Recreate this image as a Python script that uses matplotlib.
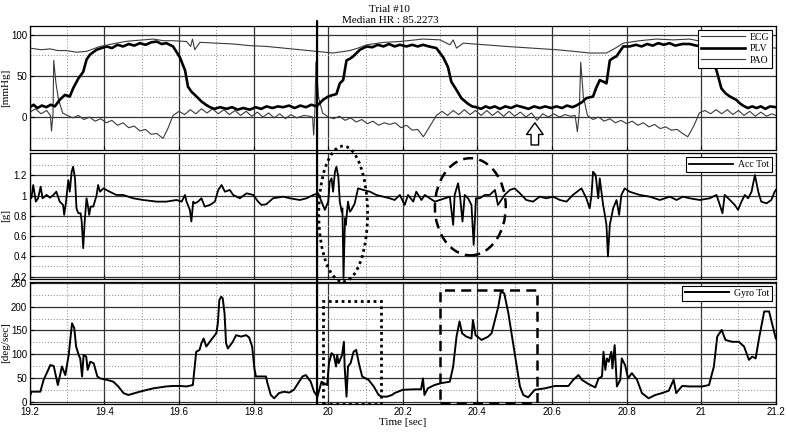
import numpy as np
import matplotlib
matplotlib.use("Agg")
import matplotlib.pyplot as plt
from matplotlib.patches import Ellipse, Rectangle, ConnectionPatch

# ---- data ----
ecg_t = [19.200, 19.215, 19.230, 19.245, 19.255, 19.258, 19.262, 19.264, 19.270, 19.277,
         19.288, 19.300, 19.315, 19.330, 19.345, 19.360, 19.375, 19.390, 19.405, 19.420,
         19.435, 19.450, 19.465, 19.480, 19.495, 19.510, 19.525, 19.540, 19.557, 19.570,
         19.584, 19.600, 19.615, 19.630, 19.645, 19.660, 19.675, 19.690, 19.705, 19.720,
         19.735, 19.750, 19.765, 19.780, 19.795, 19.810, 19.825, 19.840, 19.855, 19.870,
         19.885, 19.900, 19.915, 19.935, 19.950, 19.958, 19.961, 19.964, 19.967, 19.974,
         19.985, 20.000, 20.015, 20.030, 20.045, 20.060, 20.075, 20.090, 20.105, 20.120,
         20.135, 20.150, 20.165, 20.180, 20.195, 20.210, 20.225, 20.240, 20.255, 20.270,
         20.290, 20.305, 20.320, 20.335, 20.350, 20.365, 20.380, 20.395, 20.410, 20.425,
         20.440, 20.455, 20.470, 20.485, 20.500, 20.515, 20.530, 20.545, 20.560, 20.575,
         20.590, 20.605, 20.620, 20.635, 20.650, 20.662, 20.668, 20.673, 20.677, 20.684,
         20.695, 20.710, 20.725, 20.740, 20.755, 20.770, 20.785, 20.800, 20.815, 20.830,
         20.845, 20.860, 20.875, 20.890, 20.905, 20.920, 20.935, 20.950, 20.964, 20.980,
         20.995, 21.010, 21.025, 21.040, 21.055, 21.070, 21.085, 21.100, 21.115, 21.130,
         21.145, 21.160, 21.175, 21.190, 21.200]
ecg_v = [6, 10, 4, 8, 2, -17, 4, 69, 41, 21,
         5, 2, -1, 2, -3, 0, -5, -2, -7, -4,
         -10, -7, -13, -11, -17, -15, -21, -20, -26, -14,
         2, 7, 3, 9, 4, 10, 5, 10, 4, 9,
         3, 8, 2, 7, 1, 6, 0, 5, -1, 4,
         -2, 3, -1, 2, 1, 0, -22, 5, 67, 24,
         5, 0, -2, 1, -4, -1, -6, -3, -8, -5,
         -10, -7, -9, -7, -13, -10, -16, -15, -24, -13,
         2, 7, 2, 8, 3, 9, 3, 8, 2, 8,
         2, 7, 1, 7, 1, 6, 0, 5, -4, 4,
         0, 4, 0, 3, 1, 2, -18, 5, 67, 25,
         2, -3, 0, -5, -2, -7, -4, -8, -5, -10,
         -7, -12, -9, -14, -12, -16, -15, -20, -24, -11,
         5, 8, 4, 9, 4, 9, 3, 8, 2, 7,
         1, 6, 1, 4, 2]

plv_t = [19.200, 19.210, 19.220, 19.232, 19.244, 19.256, 19.267, 19.280, 19.294, 19.307,
         19.316, 19.330, 19.343, 19.352, 19.361, 19.370, 19.379, 19.392, 19.406, 19.420,
         19.435, 19.450, 19.465, 19.480, 19.495, 19.510, 19.525, 19.540, 19.553, 19.566,
         19.584, 19.602, 19.616, 19.624, 19.633, 19.647, 19.660, 19.672, 19.683, 19.695,
         19.710, 19.727, 19.742, 19.757, 19.772, 19.790, 19.805, 19.820, 19.835, 19.850,
         19.865, 19.879, 19.895, 19.910, 19.925, 19.940, 19.955, 19.969, 19.986, 20.000,
         20.013, 20.022, 20.031, 20.040, 20.049, 20.058, 20.067, 20.076, 20.085, 20.094,
         20.103, 20.118, 20.133, 20.148, 20.163, 20.178, 20.192, 20.210, 20.225, 20.240,
         20.254, 20.270, 20.290, 20.308, 20.321, 20.330, 20.344, 20.357, 20.375, 20.386,
         20.397, 20.410, 20.422, 20.433, 20.447, 20.460, 20.475, 20.490, 20.505, 20.522,
         20.537, 20.552, 20.567, 20.582, 20.597, 20.612, 20.627, 20.640, 20.655, 20.665,
         20.680, 20.692, 20.710, 20.718, 20.728, 20.738, 20.746, 20.755, 20.764, 20.773,
         20.782, 20.791, 20.808, 20.825, 20.840, 20.855, 20.870, 20.885, 20.900, 20.915,
         20.930, 20.950, 20.969, 20.987, 21.005, 21.015, 21.023, 21.032, 21.041, 21.054,
         21.065, 21.077, 21.094, 21.103, 21.112, 21.125, 21.137, 21.148, 21.160, 21.172,
         21.185, 21.200]
plv_v = [12, 15, 11, 14, 12, 15, 13, 21, 27, 25,
         35, 47, 55, 70, 76, 79, 82, 84, 86, 84,
         88, 86, 89, 87, 90, 88, 91, 92, 89, 90,
         86, 73, 57, 37, 31, 25, 19, 15, 12, 10,
         12, 10, 12, 9, 11, 9, 12, 10, 13, 11,
         13, 12, 14, 11, 14, 12, 15, 13, 21, 25,
         27, 28, 41, 45, 69, 71, 74, 78, 82, 84,
         86, 85, 88, 86, 89, 86, 88, 86, 88, 86,
         88, 86, 84, 73, 61, 43, 33, 23, 16, 13,
         12, 10, 13, 11, 13, 10, 13, 11, 14, 12,
         10, 13, 11, 13, 11, 13, 11, 14, 12, 14,
         18, 23, 25, 35, 45, 43, 41, 69, 72, 74,
         80, 86, 86, 88, 86, 89, 87, 90, 88, 90,
         87, 89, 89, 87, 86, 82, 76, 65, 57, 35,
         29, 25, 21, 17, 14, 11, 13, 11, 13, 10,
         13, 12]

pao_t = [19.200, 19.230, 19.254, 19.275, 19.298, 19.325, 19.352, 19.370, 19.388, 19.410,
         19.432, 19.455, 19.477, 19.505, 19.531, 19.558, 19.584, 19.620, 19.631, 19.636,
         19.642, 19.656, 19.700, 19.745, 19.790, 19.835, 19.880, 19.924, 19.969, 20.013,
         20.058, 20.080, 20.103, 20.150, 20.192, 20.254, 20.300, 20.326, 20.335, 20.344,
         20.362, 20.420, 20.478, 20.545, 20.612, 20.660, 20.701, 20.746, 20.770, 20.791,
         20.835, 20.880, 20.925, 20.969, 21.023, 21.034, 21.045, 21.059, 21.100, 21.148,
         21.200]
pao_v = [84, 82, 83, 81, 81, 79, 80, 83, 86, 88,
         90, 92, 93, 94, 95, 93, 93, 92, 86, 95,
         82, 91, 90, 89, 87, 86, 84, 82, 80, 78,
         81, 84, 88, 91, 92, 95, 94, 88, 94, 84,
         90, 88, 86, 84, 82, 80, 78, 78, 84, 90,
         93, 95, 94, 95, 90, 92, 86, 90, 88, 86,
         84]

acc_t = [19.200, 19.204, 19.209, 19.216, 19.222, 19.229, 19.234, 19.245, 19.254, 19.263,
         19.271, 19.280, 19.289, 19.292, 19.297, 19.303, 19.307, 19.312, 19.316, 19.321,
         19.325, 19.330, 19.336, 19.339, 19.343, 19.347, 19.352, 19.356, 19.359, 19.363,
         19.370, 19.374, 19.379, 19.383, 19.388, 19.397, 19.414, 19.432, 19.450, 19.477,
         19.504, 19.540, 19.566, 19.593, 19.607, 19.616, 19.620, 19.629, 19.633, 19.638,
         19.642, 19.651, 19.660, 19.669, 19.683, 19.696, 19.705, 19.714, 19.723, 19.736,
         19.745, 19.763, 19.781, 19.799, 19.812, 19.821, 19.834, 19.852, 19.879, 19.897,
         19.924, 19.942, 19.960, 19.973, 19.982, 19.991, 20.000, 20.004, 20.009, 20.013,
         20.018, 20.022, 20.027, 20.031, 20.036, 20.038, 20.041, 20.045, 20.047, 20.053,
         20.058, 20.062, 20.071, 20.080, 20.094, 20.112, 20.129, 20.147, 20.165, 20.178,
         20.192, 20.205, 20.214, 20.228, 20.236, 20.250, 20.259, 20.272, 20.286, 20.299,
         20.312, 20.326, 20.335, 20.339, 20.348, 20.353, 20.360, 20.366, 20.375, 20.384,
         20.390, 20.396, 20.406, 20.420, 20.433, 20.447, 20.455, 20.464, 20.473, 20.487,
         20.500, 20.514, 20.531, 20.549, 20.567, 20.585, 20.603, 20.621, 20.639, 20.656,
         20.679, 20.692, 20.701, 20.706, 20.710, 20.717, 20.724, 20.728, 20.737, 20.741,
         20.746, 20.750, 20.755, 20.764, 20.773, 20.780, 20.786, 20.795, 20.808, 20.835,
         20.862, 20.889, 20.916, 20.934, 20.951, 20.969, 20.996, 21.023, 21.041, 21.050,
         21.057, 21.063, 21.077, 21.090, 21.099, 21.108, 21.117, 21.126, 21.135, 21.144,
         21.153, 21.161, 21.175, 21.188, 21.197, 21.200]
acc_v = [1.007, 0.974, 1.105, 0.941, 0.974, 1.089, 0.974, 1.007, 0.980, 1.007,
         1.039, 0.941, 0.908, 0.810, 0.941, 1.154, 1.039, 1.236, 1.286, 1.171,
         0.875, 0.826, 0.826, 0.744, 0.481, 0.744, 0.974, 0.892, 0.810, 0.892,
         0.892, 0.941, 1.007, 1.105, 1.039, 1.072, 1.039, 1.007, 1.007, 0.974,
         0.957, 0.941, 0.941, 0.957, 0.941, 1.007, 0.941, 0.859, 0.744, 0.941,
         0.924, 0.941, 0.974, 0.892, 0.908, 0.941, 1.056, 1.105, 1.039, 1.056,
         1.007, 0.974, 1.023, 1.007, 0.941, 0.908, 0.915, 0.974, 0.990, 0.974,
         0.957, 0.974, 1.007, 1.023, 0.941, 0.859, 0.941, 1.138, 1.171, 1.039,
         1.236, 1.286, 1.187, 0.941, 0.842, 0.875, 0.186, 0.777, 0.711, 0.941,
         0.842, 0.859, 0.924, 1.072, 1.056, 1.039, 1.007, 0.990, 0.974, 0.957,
         1.007, 0.908, 1.007, 0.941, 1.039, 0.957, 1.007, 0.974, 0.941, 0.957,
         0.974, 0.990, 0.711, 1.007, 1.122, 1.007, 0.744, 1.007, 0.974, 0.908,
         0.514, 0.974, 0.974, 1.007, 1.007, 1.056, 0.908, 0.957, 1.007, 1.056,
         1.072, 1.023, 0.957, 0.941, 0.990, 0.974, 0.990, 0.957, 0.941, 1.007,
         1.072, 0.974, 0.875, 1.007, 1.236, 1.204, 0.974, 1.171, 0.908, 0.826,
         0.711, 0.399, 0.711, 0.875, 0.957, 0.810, 1.007, 1.072, 1.039, 1.007,
         0.990, 0.957, 0.990, 0.957, 0.990, 0.974, 0.957, 0.974, 1.007, 0.908,
         0.826, 1.007, 0.957, 0.908, 0.859, 0.941, 1.007, 0.974, 1.039, 1.204,
         1.039, 0.941, 0.924, 0.957, 1.039, 1.056]

gyro_t = [19.200, 19.204, 19.228, 19.237, 19.255, 19.264, 19.275, 19.286, 19.295, 19.304,
          19.313, 19.319, 19.324, 19.331, 19.335, 19.340, 19.344, 19.351, 19.355, 19.362,
          19.371, 19.381, 19.388, 19.406, 19.424, 19.437, 19.451, 19.464, 19.495, 19.531,
          19.566, 19.584, 19.602, 19.620, 19.637, 19.642, 19.646, 19.655, 19.660, 19.666,
          19.673, 19.686, 19.700, 19.704, 19.708, 19.713, 19.717, 19.722, 19.726, 19.731,
          19.744, 19.753, 19.766, 19.780, 19.788, 19.796, 19.802, 19.806, 19.833, 19.837,
          19.846, 19.855, 19.868, 19.882, 19.895, 19.908, 19.931, 19.940, 19.953, 19.962,
          19.971, 19.977, 19.982, 19.988, 19.997, 20.002, 20.009, 20.015, 20.021, 20.024,
          20.028, 20.037, 20.042, 20.044, 20.049, 20.053, 20.060, 20.068, 20.075, 20.082,
          20.091, 20.100, 20.108, 20.122, 20.135, 20.144, 20.157, 20.171, 20.178, 20.200,
          20.231, 20.249, 20.254, 20.258, 20.267, 20.285, 20.303, 20.326, 20.335, 20.344,
          20.352, 20.359, 20.370, 20.384, 20.388, 20.395, 20.411, 20.429, 20.438, 20.447,
          20.456, 20.463, 20.472, 20.483, 20.500, 20.514, 20.523, 20.536, 20.554, 20.581,
          20.608, 20.644, 20.657, 20.671, 20.680, 20.698, 20.716, 20.725, 20.734, 20.738,
          20.743, 20.747, 20.752, 20.759, 20.762, 20.768, 20.774, 20.783, 20.787, 20.796,
          20.804, 20.814, 20.828, 20.841, 20.859, 20.877, 20.895, 20.913, 20.926, 20.933,
          20.949, 20.967, 21.003, 21.021, 21.034, 21.043, 21.055, 21.065, 21.083, 21.101,
          21.115, 21.128, 21.137, 21.146, 21.155, 21.169, 21.182, 21.200]
gyro_v = [10.5, 21, 21, 46, 77, 75, 35, 74, 56, 98,
          165, 155, 116, 98, 91, 53, 98, 95, 67, 84,
          81, 53, 49, 46, 42, 32, 18, 14, 21, 28,
          32, 33, 33, 32, 35, 74, 105, 109, 123, 133,
          116, 130, 144, 165, 214, 221, 218, 186, 123, 112,
          126, 140, 137, 140, 135, 116, 70, 53, 53, 39,
          14, 7, 18, 21, 19, 25, 53, 56, 42, 21,
          10.5, 28, 42, 39, 35, 81, 102, 98, 74, 98,
          81, 98, 126, 74, 10.5, 74, 81, 105, 109, 81,
          53, 49, 46, 32, 14, 10.5, 10.5, 14, 18, 25,
          26, 26, 49, 14, 28, 35, 39, 42, 74, 137,
          169, 144, 137, 133, 172, 140, 130, 137, 144, 172,
          200, 232, 228, 186, 102, 32, 14, 9, 25, 28,
          33, 33, 46, 56, 46, 37, 30, 49, 53, 105,
          67, 91, 84, 105, 70, 119, 32, 46, 91, 77,
          49, 60, 46, 18, 7, 14, 18, 23, 46, 18,
          33, 32, 32, 35, 74, 137, 151, 130, 126, 126,
          116, 88, 95, 91, 133, 190, 190, 133]

x_ticks = [19.2, 19.4, 19.6, 19.8, 20.0, 20.2, 20.4, 20.6, 20.8, 21.0, 21.2]
x_labels = ["19.2", "19.4", "19.6", "19.8", "20", "20.2", "20.4", "20.6", "20.8", "21", "21.2"]
marker_t = 19.97

SERIF = "Liberation Serif"
SANS = "Liberation Sans"
plt.rcParams["font.family"] = SANS
plt.rcParams["font.size"] = 7

fig = plt.figure(figsize=(7.86, 4.32), dpi=100)
ax1 = fig.add_axes([0.038, 0.653, 0.949, 0.287])
ax2 = fig.add_axes([0.038, 0.355, 0.949, 0.2905])
ax3 = fig.add_axes([0.038, 0.0648, 0.949, 0.2824])


def style(ax, yticks, ylim, yminor):
    ax.set_xlim(19.2, 21.2)
    ax.set_ylim(*ylim)
    ax.set_xticks(x_ticks)
    ax.set_xticks(np.arange(19.3, 21.2, 0.2), minor=True)
    ax.set_yticks(yticks)
    ax.set_yticks(yminor, minor=True)
    ax.grid(True, which="major", color="#333333", lw=0.9, ls="-")
    ax.grid(True, which="minor", color="#888888", lw=0.7, ls=(0, (1, 2)))
    ax.set_axisbelow(True)
    ax.tick_params(direction="in", length=3, labelsize=7, pad=2)
    ax.tick_params(which="minor", length=0)
    for s in ax.spines.values():
        s.set_color("black")
        s.set_linewidth(0.9)


style(ax1, [0, 50, 100], (-40, 111), [-25, 25, 75])
style(ax2, [0.2, 0.4, 0.6, 0.8, 1.0, 1.2], (0.18, 1.42), [0.3, 0.5, 0.7, 0.9, 1.1, 1.3])
style(ax3, [0, 50, 100, 150, 200, 250], (-5, 252), [25, 75, 125, 175, 225])
ax2.set_yticklabels(["0.2", "0.4", "0.6", "0.8", "1", "1.2"])
for ax in (ax1, ax2):
    ax.set_xticklabels([])
ax3.set_xticklabels(x_labels)

ax1.plot(ecg_t, ecg_v, color="#3a3a3a", lw=0.8, label="ECG")
ax1.plot(plv_t, plv_v, color="black", lw=1.9, label="PLV")
ax1.plot(pao_t, pao_v, color="#3a3a3a", lw=0.8, label="PAO")
ax2.plot(acc_t, acc_v, color="black", lw=1.3, label="Acc Tot")
ax3.plot(gyro_t, gyro_v, color="black", lw=1.4, label="Gyro Tot")

leg_kw = dict(loc="upper right", fancybox=False, framealpha=1, edgecolor="black",
              prop={"family": SERIF, "size": 7}, handlelength=4.5, borderpad=0.3,
              labelspacing=0.25, handletextpad=0.5, borderaxespad=0.4)
for ax in (ax1, ax2, ax3):
    lg = ax.legend(**leg_kw)
    lg.get_frame().set_linewidth(0.8)

for ax, lab in ((ax1, "[mmHg]"), (ax2, "[g]"), (ax3, "[deg/sec]")):
    ax.set_ylabel(lab, family=SERIF, fontsize=8)
    ax.yaxis.set_label_coords(-0.026, 0.5)
ax3.set_xlabel("Time [sec]", family=SERIF, fontsize=8, labelpad=1)
fig.text(0.496, 0.988, "Trial #10", family=SERIF, fontsize=8, ha="center", va="top")
fig.text(0.496, 0.962, "Median HR : 85.2273", family=SERIF, fontsize=8, ha="center", va="top")

# vertical marker through all panels
con = ConnectionPatch(xyA=(marker_t, 117), coordsA=ax1.transData,
                      xyB=(marker_t, -5), coordsB=ax3.transData,
                      color="black", lw=1.6)
fig.add_artist(con)

# highlight shapes
ax2.add_patch(Ellipse((20.04, 0.82), 0.131, 1.34, fill=False, ec="black",
                      lw=2.0, ls=(0, (1, 1.3)), clip_on=False, zorder=5))
ax2.add_patch(Ellipse((20.381, 0.89), 0.19, 0.96, fill=False, ec="black",
                      lw=1.8, ls=(0, (4, 2.5)), clip_on=False, zorder=5))
ax3.add_patch(Rectangle((19.985, -4), 0.156, 217, fill=False, ec="black",
                        lw=2.0, ls=(0, (1, 1.3)), zorder=5))
ax3.add_patch(Rectangle((20.299, -3), 0.262, 238, fill=False, ec="black",
                        lw=1.8, ls=(0, (4, 2.5)), zorder=5))
ax1.annotate("", xy=(20.554, -7), xytext=(20.554, -34),
             arrowprops=dict(arrowstyle="simple,head_width=1.0,head_length=0.7,tail_width=0.45",
                             fc="white", ec="black", lw=1.0, mutation_scale=12,
                             shrinkA=0, shrinkB=0))

fig.savefig("out.png", dpi=100)
